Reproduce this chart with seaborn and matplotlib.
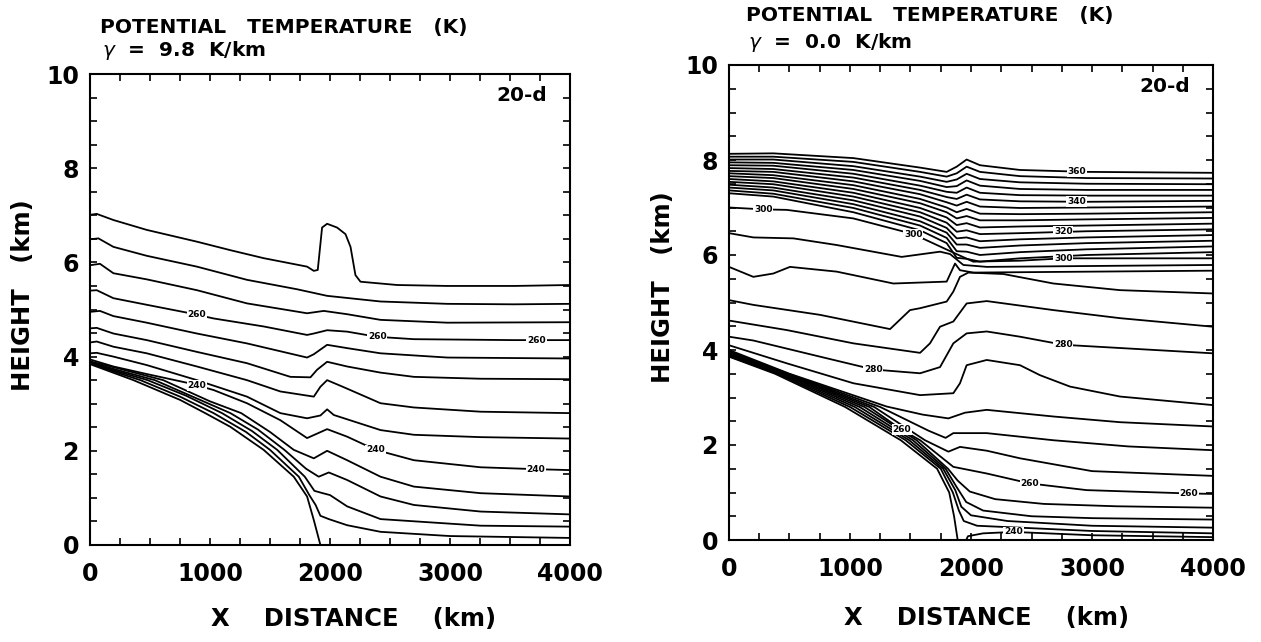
import matplotlib
matplotlib.use("Agg")
import matplotlib.pyplot as plt
from matplotlib.ticker import MultipleLocator
import seaborn as sns

sns.set_theme(style="white")
plt.rcParams['font.family'] = ['DejaVu Sans']
plt.rcParams['text.color'] = 'black'
plt.rcParams['xtick.color'] = 'black'
plt.rcParams['ytick.color'] = 'black'
plt.rcParams['axes.labelcolor'] = 'black'

# ---------------- LEFT PANEL (gamma = 9.8 K/km) ----------------
LA01 = ([0, 56, 195, 473, 891, 1169, 1447, 1809, 1865, 1898, 1934, 1976, 2059, 2129, 2171, 2212, 2254, 2560, 2978, 3534, 4000],
        [7.01, 7.03, 6.90, 6.69, 6.44, 6.26, 6.09, 5.91, 5.82, 5.84, 6.74, 6.82, 6.74, 6.60, 6.33, 5.73, 5.59, 5.52, 5.50, 5.50, 5.52])
LA02 = ([0, 70, 195, 473, 891, 1308, 1725, 1976, 2421, 2978, 3534, 4000],
        [6.49, 6.51, 6.33, 6.14, 5.91, 5.63, 5.43, 5.29, 5.17, 5.12, 5.11, 5.12])
LA03 = ([0, 83, 195, 473, 891, 1308, 1809, 1948, 2143, 2421, 2978, 4000],
        [5.94, 5.97, 5.77, 5.64, 5.41, 5.13, 4.92, 4.97, 4.90, 4.78, 4.72, 4.73])
LA04 = ([0, 56, 195, 473, 835, 1030, 1447, 1809, 1865, 1976, 2143, 2393, 2699, 3534, 4000],
        [5.40, 5.41, 5.24, 5.10, 4.92, 4.81, 4.64, 4.46, 4.49, 4.56, 4.53, 4.42, 4.37, 4.35, 4.35])
LA05 = ([0, 83, 195, 473, 891, 1308, 1809, 1865, 1976, 2143, 2421, 2978, 4000],
        [4.95, 4.97, 4.86, 4.72, 4.49, 4.28, 3.98, 4.05, 4.25, 4.18, 4.07, 3.98, 3.96])
LA06 = ([0, 56, 195, 473, 891, 1308, 1670, 1837, 1892, 1976, 2143, 2421, 2699, 3256, 4000],
        [4.60, 4.61, 4.49, 4.35, 4.10, 3.86, 3.57, 3.56, 3.72, 3.89, 3.79, 3.66, 3.57, 3.53, 3.52])
LA07 = ([0, 56, 195, 473, 891, 1308, 1586, 1865, 1920, 1976, 2115, 2421, 2699, 3256, 4000],
        [4.30, 4.32, 4.21, 4.07, 3.79, 3.50, 3.26, 3.15, 3.36, 3.50, 3.35, 3.01, 2.92, 2.83, 2.80])
LA08 = ([0, 56, 195, 473, 891, 1308, 1586, 1809, 1920, 1976, 2032, 2421, 2699, 3256, 4000],
        [4.07, 4.08, 4.00, 3.82, 3.50, 3.15, 2.80, 2.69, 2.75, 2.88, 2.76, 2.44, 2.34, 2.29, 2.26])
LA09 = ([0, 195, 473, 835, 1030, 1308, 1586, 1809, 1976, 2143, 2380, 2699, 3256, 3715, 4000],
        [3.94, 3.79, 3.63, 3.43, 3.29, 3.01, 2.65, 2.27, 2.46, 2.30, 2.02, 1.80, 1.65, 1.61, 1.59])
LA10 = ([0, 250, 610, 1000, 1260, 1500, 1698, 1865, 1976, 2143, 2421, 2699, 3256, 4000],
        [3.90, 3.74, 3.50, 3.05, 2.80, 2.40, 2.02, 1.84, 2.00, 1.80, 1.45, 1.24, 1.10, 1.03])
LA11 = ([0, 250, 540, 900, 1170, 1400, 1620, 1800, 1906, 1990, 2143, 2421, 2699, 3256, 4000],
        [3.88, 3.70, 3.50, 3.10, 2.80, 2.45, 2.02, 1.62, 1.45, 1.54, 1.38, 1.03, 0.85, 0.71, 0.65])
LA12 = ([0, 250, 480, 800, 1100, 1350, 1560, 1790, 1870, 1940, 2000, 2143, 2421, 3256, 4000],
        [3.87, 3.67, 3.50, 3.17, 2.80, 2.42, 2.02, 1.45, 1.15, 1.10, 1.06, 0.82, 0.55, 0.41, 0.39])
LA13 = ([0, 250, 420, 750, 1030, 1300, 1500, 1740, 1830, 1880, 1920, 1990, 2143, 2421, 3000, 4000],
        [3.86, 3.64, 3.50, 3.15, 2.80, 2.40, 2.02, 1.45, 1.05, 0.85, 0.62, 0.55, 0.42, 0.28, 0.19, 0.15])
LTER = ([0, 362, 751, 960, 1169, 1447, 1698, 1809, 1865, 1920],
        [3.84, 3.50, 3.08, 2.80, 2.51, 2.02, 1.45, 1.03, 0.53, 0.00])
LEFT_LABEL_X = [891, 2393, 3720, 891, 2380, 3715]
LEFT_LABEL_Y = [4.89, 4.42, 4.35, 3.39, 2.02, 1.61]
LEFT_LABEL_T = ["260", "260", "260", "240", "240", "240"]

# ---------------- RIGHT PANEL (gamma = 0.0 K/km) ----------------
BX = [0, 366, 1028, 1579, 1799, 1882, 1964, 2074, 2405, 2956, 4000]
RB360 = [8.13, 8.14, 8.04, 7.84, 7.75, 7.86, 8.01, 7.89, 7.79, 7.75, 7.73]
RB356 = [8.07, 8.07, 7.96, 7.75, 7.65, 7.72, 7.86, 7.75, 7.66, 7.62, 7.61]
RB352 = [8.01, 8.01, 7.87, 7.65, 7.54, 7.59, 7.71, 7.60, 7.53, 7.50, 7.49]
RB348 = [7.95, 7.94, 7.79, 7.56, 7.43, 7.45, 7.57, 7.46, 7.39, 7.37, 7.37]
RB344 = [7.89, 7.88, 7.71, 7.46, 7.33, 7.31, 7.42, 7.31, 7.26, 7.25, 7.25]
RB340 = [7.83, 7.81, 7.63, 7.37, 7.22, 7.18, 7.27, 7.17, 7.13, 7.12, 7.14]
RB336 = [7.77, 7.75, 7.55, 7.28, 7.11, 7.04, 7.12, 7.02, 6.99, 7.00, 7.02]
RB332 = [7.72, 7.68, 7.47, 7.18, 7.00, 6.90, 6.97, 6.87, 6.86, 6.87, 6.90]
RB328 = [7.66, 7.62, 7.39, 7.09, 6.90, 6.77, 6.82, 6.73, 6.73, 6.75, 6.78]
RB324 = [7.60, 7.55, 7.31, 6.99, 6.79, 6.63, 6.67, 6.58, 6.60, 6.62, 6.66]
RB320 = [7.54, 7.49, 7.23, 6.90, 6.68, 6.49, 6.52, 6.44, 6.46, 6.50, 6.54]
RB316 = [7.48, 7.42, 7.15, 6.81, 6.57, 6.35, 6.37, 6.29, 6.33, 6.37, 6.42]
RB312 = [7.42, 7.36, 7.07, 6.71, 6.47, 6.22, 6.22, 6.15, 6.20, 6.25, 6.30]
RB308 = [7.36, 7.29, 6.99, 6.62, 6.36, 6.08, 6.07, 6.00, 6.06, 6.12, 6.18]
RB304 = [7.30, 7.23, 6.90, 6.52, 6.25, 5.94, 5.92, 5.86, 5.93, 6.00, 6.06]
R300 = ([0, 284, 477, 1028, 1523, 1854, 2019, 2405, 2763, 4000],
        [7.00, 6.96, 6.95, 6.77, 6.44, 6.05, 5.86, 5.88, 5.93, 5.93])
R296 = ([0, 201, 532, 890, 1427, 1744, 1827, 1937, 2130, 4000],
        [6.46, 6.37, 6.35, 6.21, 5.96, 6.07, 6.02, 5.79, 5.75, 5.79])
R292 = ([0, 201, 366, 504, 890, 1358, 1799, 1868, 1909, 2019, 4000],
        [5.75, 5.54, 5.61, 5.75, 5.65, 5.40, 5.44, 5.82, 5.68, 5.63, 5.67])
R288 = ([0, 201, 752, 1331, 1496, 1579, 1799, 1854, 1909, 1978, 2267, 2681, 3232, 4000],
        [5.05, 4.95, 4.74, 4.44, 4.84, 4.88, 5.02, 5.23, 5.54, 5.63, 5.60, 5.40, 5.26, 5.19])
R284 = ([0, 477, 1028, 1579, 1661, 1744, 1854, 1964, 2130, 2681, 3232, 4000],
        [4.62, 4.42, 4.14, 3.94, 4.14, 4.49, 4.60, 4.98, 5.03, 4.84, 4.67, 4.49])
R280 = ([0, 201, 752, 1193, 1579, 1744, 1854, 1964, 2130, 2405, 2763, 4000],
        [4.28, 4.20, 3.86, 3.59, 3.51, 3.64, 4.14, 4.35, 4.39, 4.28, 4.11, 3.93])
R276 = ([0, 477, 1028, 1579, 1854, 1909, 1964, 2130, 2405, 2570, 2818, 3232, 4000],
        [4.10, 3.72, 3.30, 3.05, 3.09, 3.30, 3.68, 3.79, 3.68, 3.47, 3.23, 3.02, 2.84])
R272 = ([0, 500, 1303, 1600, 1813, 1950, 2130, 2681, 3232, 4000],
        [4.00, 3.50, 2.81, 2.64, 2.56, 2.68, 2.74, 2.60, 2.48, 2.39])
R268 = ([0, 490, 1250, 1650, 1790, 1854, 2130, 2681, 3300, 4000],
        [3.97, 3.50, 2.80, 2.30, 2.15, 2.25, 2.25, 2.10, 1.97, 1.89])
R264 = ([0, 480, 1200, 1620, 1813, 1909, 2130, 2405, 3000, 4000],
        [3.94, 3.50, 2.80, 2.10, 1.86, 1.96, 1.88, 1.72, 1.45, 1.35])
R260 = ([0, 470, 1160, 1427, 1580, 1854, 2130, 2488, 2956, 3800, 4000],
        [3.92, 3.50, 2.80, 2.32, 2.10, 1.54, 1.40, 1.19, 1.05, 0.98, 0.97])
R256 = ([0, 455, 1120, 1550, 1810, 1890, 1990, 2200, 2600, 3200, 4000],
        [3.90, 3.50, 2.80, 2.10, 1.50, 1.25, 1.02, 0.86, 0.76, 0.71, 0.68])
R252 = ([0, 440, 1080, 1520, 1790, 1880, 1960, 2100, 2500, 3000, 4000],
        [3.89, 3.50, 2.80, 2.10, 1.50, 1.12, 0.80, 0.62, 0.50, 0.46, 0.43])
R248 = ([0, 420, 1040, 1490, 1770, 1870, 1920, 2000, 2300, 3000, 4000],
        [3.88, 3.50, 2.80, 2.10, 1.50, 1.05, 0.70, 0.52, 0.40, 0.30, 0.26])
R244 = ([0, 400, 1000, 1460, 1750, 1850, 1900, 1940, 2050, 2400, 3000, 4000],
        [3.87, 3.50, 2.80, 2.10, 1.50, 1.00, 0.62, 0.40, 0.30, 0.26, 0.19, 0.14])
R240 = ([1960, 1975, 2100, 2350, 3000, 4000],
        [0.00, 0.08, 0.14, 0.17, 0.10, 0.06])
RTER = ([0, 380, 960, 1420, 1720, 1820, 1860, 1890],
        [3.86, 3.50, 2.80, 2.10, 1.50, 1.00, 0.50, 0.00])
RIGHT_LABEL_X = [284, 1523, 2873, 2873, 2763, 2763, 1193, 2763, 1427, 2488, 3800, 2350]
RIGHT_LABEL_Y = [6.96, 6.44, 7.75, 7.12, 6.49, 5.93, 3.59, 4.11, 2.32, 1.19, 0.98, 0.17]
RIGHT_LABEL_T = ["300", "300", "360", "340", "320", "300", "280", "280", "260", "260", "260", "240"]

LEFT_LINES = [LA01, LA02, LA03, LA04, LA05, LA06, LA07, LA08, LA09, LA10, LA11, LA12, LA13, LTER]
RIGHT_LINES = [(BX, v) for v in [RB360, RB356, RB352, RB348, RB344, RB340, RB336, RB332,
                                  RB328, RB324, RB320, RB316, RB312, RB308, RB304]]
RIGHT_LINES += [R300, R296, R292, R288, R284, R280, R276, R272, R268, R264, R260,
                R256, R252, R248, R244, R240, RTER]

W, H = 1261, 642
fig = plt.figure(figsize=(W / 100, H / 100), dpi=100)
axL = fig.add_axes([90 / W, 1 - 545 / H, 480 / W, 471 / H])
axR = fig.add_axes([729 / W, 1 - 540 / H, 484 / W, 475 / H])


def draw(ax, lines, lx, ly, lt):
    for xs, ys in lines:
        sns.lineplot(x=xs, y=ys, sort=False, estimator=None, color="black",
                     linewidth=1.3, ax=ax, legend=False)
    for x, y, t in zip(lx, ly, lt):
        ax.text(x, y, t, fontsize=6.5, fontweight="bold", ha="center", va="center",
                bbox=dict(facecolor="white", edgecolor="none", pad=0.6), zorder=5)
    ax.set_xlim(0, 4000)
    ax.set_ylim(0, 10)
    ax.set_xticks([0, 1000, 2000, 3000, 4000])
    ax.set_yticks([0, 2, 4, 6, 8, 10])
    ax.xaxis.set_minor_locator(MultipleLocator(250))
    ax.yaxis.set_minor_locator(MultipleLocator(0.5))
    ax.tick_params(which="both", direction="in", length=5, width=1.2,
                   top=True, right=True, bottom=True, left=True, color="black")
    ax.tick_params(axis="x", which="major", pad=12, labelsize=17)
    ax.tick_params(axis="y", which="major", pad=8, labelsize=17)
    for lab in ax.get_xticklabels() + ax.get_yticklabels():
        lab.set_fontweight("bold")
    for s in ax.spines.values():
        s.set_visible(True)
        s.set_color("black")
        s.set_linewidth(1.5)
    ax.set_xlabel("")
    ax.set_ylabel("")
    ax.text(0.952, 0.975, "20-d", transform=ax.transAxes, ha="right", va="top",
            fontsize=14.5, fontweight="bold")


draw(axL, LEFT_LINES, LEFT_LABEL_X, LEFT_LABEL_Y, LEFT_LABEL_T)
draw(axR, RIGHT_LINES, RIGHT_LABEL_X, RIGHT_LABEL_Y, RIGHT_LABEL_T)

tk = dict(fontsize=14.5, fontweight="bold", ha="left", va="center")
fig.text(100 / W, 1 - 28 / H, "POTENTIAL   TEMPERATURE   (K)", **tk)
fig.text(102 / W, 1 - 51 / H, r"$\gamma$  =  9.8  K/km", **tk)
fig.text(746 / W, 1 - 15 / H, "POTENTIAL   TEMPERATURE   (K)", **tk)
fig.text(748 / W, 1 - 42 / H, r"$\gamma$  =  0.0  K/km", **tk)

lk = dict(fontsize=17.5, fontweight="bold", ha="center", va="center")
fig.text(354 / W, 1 - 619 / H, "X    DISTANCE    (km)", **lk)
fig.text(987 / W, 1 - 618 / H, "X    DISTANCE    (km)", **lk)
fig.text(23 / W, 1 - 295 / H, "HEIGHT   (km)", rotation=90, **lk)
fig.text(663 / W, 1 - 287 / H, "HEIGHT   (km)", rotation=90, **lk)

fig.savefig("out.png", dpi=100, facecolor="white")
